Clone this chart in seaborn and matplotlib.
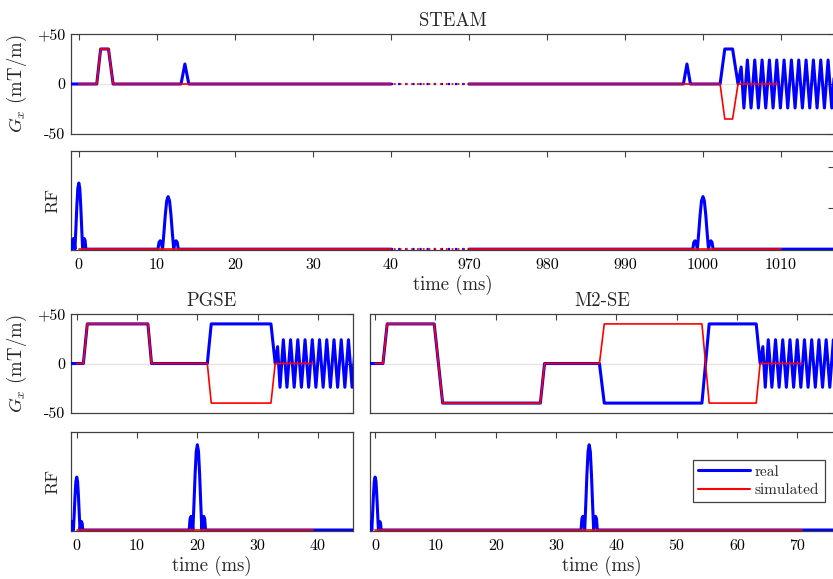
import numpy as np
import matplotlib
matplotlib.use("Agg")
import matplotlib.pyplot as plt
from matplotlib.lines import Line2D
import seaborn as sns

# ------------------------------------------
# DATA
# ------------------------------------------

# STEAM gradient, before the axis break (t <= 40 ms)
steam_real_t1 = [-1, 2.3, 2.8, 3.8, 4.4, 13.1, 13.6, 14.1, 40]
steam_real_g1 = [0, 0, 35, 35, 0, 0, 20, 0, 0]
steam_sim_t1 = [0, 2.3, 2.8, 3.8, 4.4, 40]
steam_sim_g1 = [0, 0, 35, 35, 0, 0]

# STEAM gradient, after the axis break (t >= 970 ms), incl. readout
steam_real_t2 = [970, 997.5, 997.95, 998.4, 1002.2, 1002.8, 1003.8, 1004.5,
                 1004.9, 1005.25, 1005.7, 1006.17, 1006.64, 1007.11, 1007.58,
                 1008.05, 1008.52, 1008.99, 1009.46, 1009.93, 1010.4, 1010.87,
                 1011.34, 1011.81, 1012.28, 1012.75, 1013.22, 1013.69,
                 1014.16, 1014.63, 1015.1, 1015.57, 1016.04, 1016.51, 1016.98]
steam_real_g2 = [0, 0, 20, 0, 0, 35, 35, 0,
                 17, -24, 24, -24, 24, -24, 24,
                 -24, 24, -24, 24, -24, 24, -24,
                 24, -24, 24, -24, 24, -24,
                 24, -24, 24, -24, 24, -24, 24]
steam_sim_t2 = [970, 1002.2, 1002.8, 1003.8, 1004.5, 1009.6]
steam_sim_g2 = [0, 0, -35, -35, 0, 0]

# PGSE gradient
pgse_real_t = [-1, 1.1, 1.75, 11.8, 12.4, 21.65, 22.3, 32.2, 32.9, 33.3, 33.7,
               34.25, 34.85, 35.45, 36.05, 36.65, 37.25, 37.85, 38.45, 39.05,
               39.65, 40.25, 40.85, 41.45, 42.05, 42.65, 43.25, 43.85, 44.45,
               45.05, 45.65, 46.25]
pgse_real_g = [0, 0, 40, 40, 0, 0, 40, 40, 0, 17, -24,
               24, -24, 24, -24, 24, -24, 24, -24, 24,
               -24, 24, -24, 24, -24, 24, -24, 24, -24,
               24, -24, 24]
pgse_sim_t = [0, 1.1, 1.75, 11.8, 12.4, 21.65, 22.3, 32.2, 32.9, 39.2]
pgse_sim_g = [0, 0, 40, 40, 0, 0, -40, -40, 0, 0]

# M2-SE gradient
m2se_real_t = [-1, 1.3, 2.0, 9.8, 11.2, 27.4, 28.1, 37.2, 38.0, 54.2, 55.4,
               63.2, 63.85, 64.3, 64.7, 65.2, 65.8, 66.4, 67.0, 67.6, 68.2,
               68.8, 69.4, 70.0, 70.6, 71.2, 71.8, 72.4, 73.0, 73.6, 74.2,
               74.8, 75.4, 76.0, 76.6]
m2se_real_g = [0, 0, 40, 40, -40, -40, 0, 0, -40, -40, 40,
               40, 0, 17, -24, 24, -24, 24, -24, 24, -24,
               24, -24, 24, -24, 24, -24, 24, -24, 24, -24,
               24, -24, 24, -24]
m2se_sim_t = [0, 1.3, 2.0, 9.8, 11.2, 27.4, 28.1, 37.2, 38.0, 54.2, 55.4,
              63.2, 63.85, 70.8]
m2se_sim_g = [0, 0, 40, 40, -40, -40, 0, 0, 40, 40, -40, -40, 0, 0]

# RF pulse shape (normalised sinc-like envelope, half-width = 1)
rf_shape_dt = [-1.0, -0.9, -0.78, -0.66, -0.55, -0.42, -0.28, -0.14, 0.0,
               0.14, 0.28, 0.42, 0.55, 0.66, 0.78, 0.9, 1.0]
rf_shape_v = [0.0, 0.13, 0.16, 0.11, 0.0, 0.3, 0.65, 0.92, 1.0,
              0.92, 0.65, 0.3, 0.0, 0.11, 0.16, 0.13, 0.0]

steam_rf_center = [0, 11.45, 1000]
steam_rf_peak = [1.61, 1.28, 1.28]
steam_rf_halfw = [0.9, 1.3, 1.3]

pgse_rf_center = [0, 20]
pgse_rf_peak = [0.54, 0.87]
pgse_rf_halfw = [1.0, 1.35]

m2se_rf_center = [0, 35.5]
m2se_rf_peak = [0.54, 0.87]
m2se_rf_halfw = [1.0, 1.35]

steam_ticks = [0, 10, 20, 30, 40, 970, 980, 990, 1000, 1010]
pgse_ticks = [0, 10, 20, 30, 40]
m2se_ticks = [0, 10, 20, 30, 40, 50, 60, 70]
g_ticks = [-50, 0, 50]
g_ticklabels = ["-50", "0", "+50"]

# ------------------------------------------
# STYLE
# ------------------------------------------

BLUE = "#0000ff"
RED = "#ff0000"
LW_REAL = 2.2
LW_SIM = 1.2
EDGE = "#404040"
FS_G = 13.5     # G_x label
FS_RF = 13      # RF label
FS_LAB = 13.5   # time label / titles

sns.set_theme(style="white")
plt.rcParams["font.family"] = ["cmr10", "DejaVu Serif"]
plt.rcParams["mathtext.fontset"] = "cm"
plt.rcParams["axes.unicode_minus"] = False
plt.rcParams["axes.edgecolor"] = EDGE
plt.rcParams["axes.linewidth"] = 0.9

W, H = 833, 579
fig = plt.figure(figsize=(W / 100, H / 100), dpi=100)


def add_axes(left, right, top, bottom):
    """Axes placed by pixel edges of the 833x579 canvas."""
    return fig.add_axes([left / W, 1 - bottom / H, (right - left) / W, (bottom - top) / H])


def brk_fwd(t):
    t = np.asarray(t, dtype=float)
    return np.where(t <= 40, t, np.where(t >= 970, t - 920, 40 + (t - 40) * 10 / 930))


def brk_inv(u):
    u = np.asarray(u, dtype=float)
    return np.where(u <= 40, u, np.where(u >= 50, u + 920, 40 + (u - 40) * 93))


def rf_trace(t0, t1, centers, peaks, halfw):
    t, v = [t0], [0.0]
    for c, p, w in zip(centers, peaks, halfw):
        if t0 < c < t1:
            t += [c + d * w for d in rf_shape_dt]
            v += [s * p for s in rf_shape_v]
    t.append(t1)
    v.append(0.0)
    return t, v


def trace(ax, t, y, color, lw, z, **kw):
    sns.lineplot(x=t, y=y, ax=ax, color=color, linewidth=lw, estimator=None,
                 sort=False, legend=False, zorder=z, **kw)


def style_axes(ax, xticks, labels=True):
    ax.set_xticks(xticks)
    ax.set_xticklabels([str(v) for v in xticks] if labels else [])
    ax.minorticks_off()
    ax.tick_params(axis="both", direction="in", length=4, width=0.8, colors=EDGE,
                   labelcolor="black", top=True, right=True, labelsize=11.5)
    ax.tick_params(axis="x", pad=6)
    ax.tick_params(axis="y", pad=4)
    ax.set_xlabel("")
    ax.set_ylabel("")


def style_grad(ax):
    ax.axhline(0, color="#e4e4e4", lw=1.0, zorder=0.5)
    ax.set_ylim(-50, 50)
    ax.set_yticks(g_ticks)
    ax.set_yticklabels(g_ticklabels)


# ------------------------------------------
# AXES
# ------------------------------------------

ax_sg = add_axes(71, 834, 34, 134)
ax_sr = add_axes(71, 834, 151, 250)
ax_pg = add_axes(71, 353, 314, 413)
ax_pr = add_axes(71, 353, 432, 531)
ax_mg = add_axes(370, 834, 314, 413)
ax_mr = add_axes(370, 834, 432, 531)

for ax in (ax_sg, ax_sr):
    ax.set_xscale("function", functions=(brk_fwd, brk_inv))

# ------------------------------------------
# STEAM
# ------------------------------------------

trace(ax_sg, steam_real_t1, steam_real_g1, BLUE, LW_REAL, 3)
trace(ax_sg, steam_real_t2, steam_real_g2, BLUE, LW_REAL, 3)
trace(ax_sg, steam_sim_t1, steam_sim_g1, RED, LW_SIM, 4)
trace(ax_sg, steam_sim_t2, steam_sim_g2, RED, LW_SIM, 4)

rt, rv = rf_trace(-1, 40, steam_rf_center, steam_rf_peak, steam_rf_halfw)
trace(ax_sr, rt, rv, BLUE, LW_REAL, 3)
rt, rv = rf_trace(970, 1017, steam_rf_center, steam_rf_peak, steam_rf_halfw)
trace(ax_sr, rt, rv, BLUE, LW_REAL, 3)
trace(ax_sr, [0, 40], [0, 0], RED, LW_SIM, 4)
trace(ax_sr, [970, 1010], [0, 0], RED, LW_SIM, 4)

# dotted link across the break
for ax in (ax_sg, ax_sr):
    trace(ax, [40, 970], [0, 0], BLUE, 1.6, 3, linestyle=(0, (1, 2.2)))
    trace(ax, [40, 970], [0, 0], RED, 1.3, 4, linestyle=(1.6, (1, 2.2)))

style_axes(ax_sg, steam_ticks, labels=False)
style_grad(ax_sg)
ax_sg.set_xlim(-1.0, 1016.8)
ax_sg.set_title("STEAM", fontsize=FS_LAB, pad=6)
ax_sg.set_ylabel("$G_x$ (mT/m)", fontsize=FS_G)
ax_sg.yaxis.set_label_coords((29 - 71) / 763, 0.5)

style_axes(ax_sr, steam_ticks)
ax_sr.set_xlim(-1.0, 1016.8)
ax_sr.set_ylim(-0.02, 2.39)
ax_sr.set_yticks([0, 1, 2])
ax_sr.set_yticklabels([])
ax_sr.set_ylabel("RF", fontsize=FS_RF)
ax_sr.yaxis.set_label_coords((60 - 71) / 763, 0.5)
ax_sr.set_xlabel("time (ms)", fontsize=FS_LAB, labelpad=2)

# ------------------------------------------
# PGSE
# ------------------------------------------

trace(ax_pg, pgse_real_t, pgse_real_g, BLUE, LW_REAL, 3)
trace(ax_pg, pgse_sim_t, pgse_sim_g, RED, LW_SIM, 4)
style_axes(ax_pg, pgse_ticks, labels=False)
style_grad(ax_pg)
ax_pg.set_xlim(-0.95, 45.8)
ax_pg.set_title("PGSE", fontsize=FS_LAB, pad=6)
ax_pg.set_ylabel("$G_x$ (mT/m)", fontsize=FS_G)
ax_pg.yaxis.set_label_coords((29 - 71) / 282, 0.5)

rt, rv = rf_trace(-1, 46, pgse_rf_center, pgse_rf_peak, pgse_rf_halfw)
trace(ax_pr, rt, rv, BLUE, LW_REAL, 3)
trace(ax_pr, [0, 39.2], [0, 0], RED, LW_SIM, 4)
style_axes(ax_pr, pgse_ticks)
ax_pr.set_xlim(-0.95, 45.8)
ax_pr.set_ylim(-0.01, 1.0)
ax_pr.set_yticks([])
ax_pr.set_ylabel("RF", fontsize=FS_RF)
ax_pr.yaxis.set_label_coords((60 - 71) / 282, 0.5)
ax_pr.set_xlabel("time (ms)", fontsize=FS_LAB, labelpad=2)

# ------------------------------------------
# M2-SE
# ------------------------------------------

trace(ax_mg, m2se_real_t, m2se_real_g, BLUE, LW_REAL, 3)
trace(ax_mg, m2se_sim_t, m2se_sim_g, RED, LW_SIM, 4)
style_axes(ax_mg, m2se_ticks, labels=False)
style_grad(ax_mg)
ax_mg.set_yticklabels([])
ax_mg.set_xlim(-0.85, 76.1)
ax_mg.set_title("M2-SE", fontsize=FS_LAB, pad=6)

rt, rv = rf_trace(-1, 77, m2se_rf_center, m2se_rf_peak, m2se_rf_halfw)
trace(ax_mr, rt, rv, BLUE, LW_REAL, 3)
trace(ax_mr, [0, 70.8], [0, 0], RED, LW_SIM, 4)
style_axes(ax_mr, m2se_ticks)
ax_mr.set_xlim(-0.85, 76.1)
ax_mr.set_ylim(-0.01, 1.0)
ax_mr.set_yticks([])
ax_mr.set_xlabel("time (ms)", fontsize=FS_LAB, labelpad=2)

handles = [Line2D([], [], color=BLUE, lw=LW_REAL, label="real"),
           Line2D([], [], color=RED, lw=1.5, label="simulated")]
leg = ax_mr.legend(handles=handles, loc="upper right", bbox_to_anchor=(0.98, 0.72),
                   borderaxespad=0, fontsize=11, frameon=True, fancybox=False,
                   framealpha=1, edgecolor=EDGE, handlelength=3.4, borderpad=0.35,
                   labelspacing=0.3, handletextpad=0.3)
leg.get_frame().set_linewidth(0.9)

fig.savefig("out.png", dpi=100)
